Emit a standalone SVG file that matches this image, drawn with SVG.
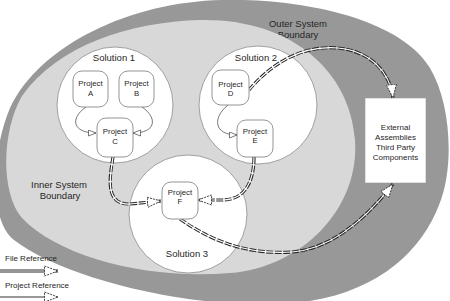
<svg xmlns="http://www.w3.org/2000/svg" width="450" height="301" viewBox="0 0 450 301">
  <style>
    text { font-family: "Liberation Sans", Arial, sans-serif; fill: #262626; }
    .outer { fill: #989898; }
    .inner { fill: #d8d8d8; }
    .solution { fill: #ffffff; stroke: #8a8a8a; stroke-width: 0.8; }
    .project { fill: #ffffff; stroke: #7a7a7a; stroke-width: 0.8; }
    .sol-label { font-size: 9.5px; text-anchor: middle; }
    .proj-label { font-size: 7.8px; text-anchor: middle; }
    .bound-label { font-size: 9.5px; text-anchor: middle; }
    .ext-label { font-size: 8px; text-anchor: middle; }
    .legend-label { font-size: 8px; }
    .file-outer { fill: none; stroke: #2a2a2a; stroke-width: 3.2; stroke-dasharray: 7 1.5; }
    .file-inner { fill: none; stroke: #ffffff; stroke-width: 1.2; marker-end: url(#file-head); }
    .proj-ref { fill: none; stroke: #555555; stroke-width: 0.8; marker-end: url(#proj-head); }
  </style>
  <defs>
    <marker id="file-head" markerUnits="userSpaceOnUse" markerWidth="16" markerHeight="14" refX="14" refY="6" orient="auto">
      <path d="M0.5,1 L14,6 L0.5,11 Z" fill="#ffffff" stroke="#333333" stroke-width="0.9" stroke-dasharray="2 1"/>
    </marker>
    <marker id="proj-head" markerUnits="userSpaceOnUse" markerWidth="10" markerHeight="10" refX="8" refY="3.5" orient="auto">
      <path d="M0.5,0.5 L8,3.5 L0.5,6.5 Z" fill="#ffffff" stroke="#444444" stroke-width="0.7"/>
    </marker>
  </defs>

  <!-- system boundaries -->
  <g id="outer-boundary">
    <path class="outer" d="M222,0 C300,-2 400,18 430,68 C452,105 454,170 439,205 C420,255 370,300 280,304 C180,308 60,276 14,240 C-12,220 -8,150 10,108 C40,45 130,2 222,0 Z"/>
    <text class="bound-label" x="298" y="27">Outer System</text>
    <text class="bound-label" x="298" y="38">Boundary</text>
  </g>
  <g id="inner-boundary">
    <path class="inner" d="M200,20 C290,18 350,70 355,140 C360,210 300,268 230,273 C150,280 60,258 22,218 C0,192 2,130 22,96 C58,45 130,22 200,20 Z"/>
    <text class="bound-label" x="59" y="188">Inner System</text>
    <text class="bound-label" x="60" y="199">Boundary</text>
  </g>

  <!-- solutions -->
  <g id="solution-1">
    <circle class="solution" cx="115" cy="105" r="58"/>
    <text class="sol-label" x="114" y="61">Solution 1</text>
  </g>
  <g id="solution-2">
    <circle class="solution" cx="258" cy="105" r="59"/>
    <text class="sol-label" x="256" y="61">Solution 2</text>
  </g>
  <g id="solution-3">
    <circle class="solution" cx="188" cy="214" r="59"/>
    <text class="sol-label" x="187" y="257">Solution 3</text>
  </g>

  <!-- external box -->
  <g id="external">
    <rect x="365" y="98" width="61" height="85" fill="#ffffff" stroke="#9a9a9a" stroke-width="0.6"/>
    <text class="ext-label" x="395.5" y="130">External</text>
    <text class="ext-label" x="395.5" y="140">Assemblies</text>
    <text class="ext-label" x="395.5" y="150">Third Party</text>
    <text class="ext-label" x="395.5" y="160">Components</text>
  </g>

  <!-- connectors -->
  <g id="connectors">
    <path class="proj-ref" d="M86,107 C70,118 72,133 96,133"/>
    <path class="proj-ref" d="M142,107 C158,118 156,133 133,133"/>
    <path class="proj-ref" d="M228,105 C212,118 214,135 237,135"/>

    <path class="file-outer" d="M113,157 C110,176 104,205 130,204 L161,201"/>
    <path class="file-inner" d="M113,157 C110,176 104,205 130,204 L161,201"/>

    <path class="file-outer" d="M254,157 C254,180 246,199 224,200 L198,200"/>
    <path class="file-inner" d="M254,157 C254,180 246,199 224,200 L198,200"/>

    <path class="file-outer" d="M180,219 C210,240 245,255 292,252 C330,249 365,220 393,184"/>
    <path class="file-inner" d="M180,219 C210,240 245,255 292,252 C330,249 365,220 393,184"/>

    <path class="file-outer" d="M249,90 C270,65 300,45 338,48 C370,51 390,72 393,98"/>
    <path class="file-inner" d="M249,90 C270,65 300,45 338,48 C370,51 390,72 393,98"/>
  </g>

  <!-- projects -->
  <g id="project-a">
    <rect class="project" x="73" y="71" width="35" height="36" rx="9"/>
    <text class="proj-label" x="90.5" y="86">Project</text>
    <text class="proj-label" x="90.5" y="96">A</text>
  </g>
  <g id="project-b">
    <rect class="project" x="119" y="71" width="35" height="36" rx="9"/>
    <text class="proj-label" x="136.5" y="86">Project</text>
    <text class="proj-label" x="136.5" y="96">B</text>
  </g>
  <g id="project-c">
    <rect class="project" x="97" y="118" width="36" height="39" rx="9"/>
    <text class="proj-label" x="115" y="134">Project</text>
    <text class="proj-label" x="115" y="144">C</text>
  </g>
  <g id="project-d">
    <rect class="project" x="212" y="70" width="37" height="35" rx="9"/>
    <text class="proj-label" x="230.5" y="87">Project</text>
    <text class="proj-label" x="230.5" y="96">D</text>
  </g>
  <g id="project-e">
    <rect class="project" x="237" y="120" width="36" height="37" rx="9"/>
    <text class="proj-label" x="255" y="134">Project</text>
    <text class="proj-label" x="255" y="143">E</text>
  </g>
  <g id="project-f">
    <rect class="project" x="162" y="182" width="36" height="37" rx="9"/>
    <text class="proj-label" x="180" y="195">Project</text>
    <text class="proj-label" x="180" y="204">F</text>
  </g>

  <!-- legend -->
  <g id="legend">
    <text class="legend-label" x="5" y="261">File Reference</text>
    <path class="file-outer" d="M0,271 L58,271" style="stroke-dasharray:none"/>
    <path class="file-inner" d="M0,271 L58,271"/>
    <text class="legend-label" x="5" y="288">Project Reference</text>
    <path d="M0,297 L58,297" fill="none" stroke="#333333" stroke-width="1" marker-end="url(#file-head)"/>
  </g>
</svg>
